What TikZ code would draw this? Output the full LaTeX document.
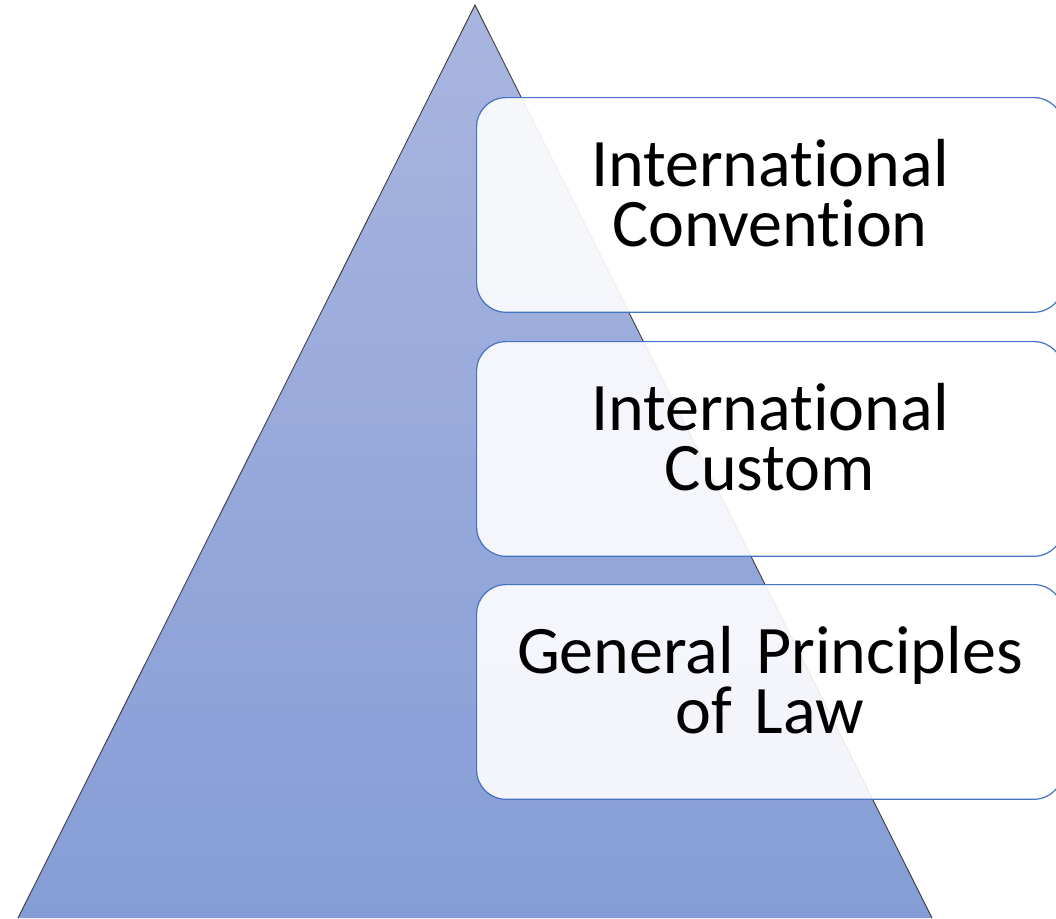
\documentclass[tikz,border=0pt]{standalone}
\usepackage{fontspec}
\setmainfont[Ligatures={NoCommon},WordSpace=0.75]{Carlito}
\definecolor{pyrtop}{RGB}{169,181,223}
\definecolor{pyrbot}{RGB}{133,157,214}
\definecolor{boxline}{RGB}{68,114,196}
\begin{document}
\begin{tikzpicture}[x=0.75pt,y=-0.75pt,
	level/.style={draw=boxline,line width=0.9pt,fill=white,fill opacity=0.9,
		rounded corners=22pt,minimum width=440pt,minimum height=161pt,anchor=north west},
	levtext/.style={align=center,font=\fontsize{51}{45}\selectfont,text width=430pt,yshift=9pt}]
	\useasboundingbox (0,0) rectangle (1056,918);
	\clip (0,0) rectangle (1056,918);
	% the pyramid
	\coordinate (top) at (475,5);
	\coordinate (bl) at (18,918);
	\coordinate (br) at (932,918);
	\shade[top color=pyrtop,bottom color=pyrbot] (top)--(bl)--(br)--cycle;
	\draw[gray!50!black,line width=0.7pt] (bl)--(top)--(br);
	% the three levels
	\node[level] (conv) at (476,97) {};
	\node[level] (cust) at (476,341) {};
	\node[level] (gen) at (476,584) {};
	\node[levtext] (convtxt) at (conv.center) {International\\Convention};
	\node[levtext] (custtxt) at (cust.center) {International\\Custom};
	\node[levtext] (gentxt) at (gen.center) {General Principles\\of Law};
\end{tikzpicture}
\end{document}
